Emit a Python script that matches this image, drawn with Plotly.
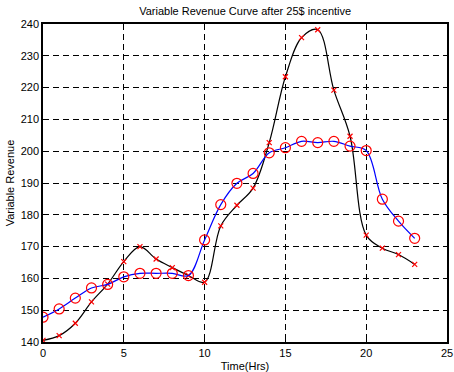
import plotly.graph_objects as go

hours = list(range(24))
revenue_black = [140.5, 142.0, 145.9, 152.6, 158.2, 165.3, 170.0, 166.1, 163.4, 160.9,
                 158.8, 176.5, 183.0, 188.4, 202.7, 223.4, 235.7, 238.2, 219.2, 204.7,
                 173.6, 169.5, 167.5, 164.4]
revenue_blue = [147.8, 150.4, 153.8, 157.0, 158.1, 160.5, 161.6, 161.6, 161.6, 160.9,
                172.1, 183.2, 189.9, 193.0, 199.5, 201.1, 203.1, 202.7, 203.1, 201.6,
                200.2, 184.9, 178.0, 172.6]
x_ticks = [0, 5, 10, 15, 20, 25]
y_ticks = [140, 150, 160, 170, 180, 190, 200, 210, 220, 230, 240]

fig = go.Figure()
fig.add_trace(go.Scatter(
    x=hours, y=revenue_black, mode="lines+markers",
    line=dict(color="black", width=1.2, shape="spline", smoothing=1.0),
    marker=dict(symbol="x-thin-open", size=5, color="red", line=dict(color="red", width=1.2)),
))
fig.add_trace(go.Scatter(
    x=hours, y=revenue_blue, mode="lines+markers",
    line=dict(color="blue", width=1.2, shape="spline", smoothing=1.0),
    marker=dict(symbol="circle-open", size=10, color="red", line=dict(color="red", width=1.2)),
))

axis_common = dict(
    showgrid=True, gridcolor="black", gridwidth=1, griddash="6px,4px",
    showline=True, linecolor="black", linewidth=1.5, mirror=True,
    ticks="inside", ticklen=4, tickcolor="black", zeroline=False,
    automargin=False,
    tickfont=dict(family="Liberation Sans, Arial", size=11, color="black"),
)

fig.update_layout(
    width=454, height=372,
    margin=dict(l=43, r=7, t=24, b=30),
    paper_bgcolor="white", plot_bgcolor="white",
    showlegend=False,
    title=dict(text="Variable Revenue Curve after 25$ incentive", x=0.54, xanchor="center",
               y=0.97, yanchor="middle",
               font=dict(family="Liberation Sans, Arial", size=11, color="black")),
    xaxis=dict(range=[0, 25], tickvals=x_ticks, ticktext=[str(v) for v in x_ticks],
               title=dict(text="Time(Hrs)", standoff=6,
                          font=dict(family="Liberation Sans, Arial", size=11, color="black")),
               **axis_common),
    yaxis=dict(range=[140, 240], tickvals=y_ticks, ticktext=[str(v) for v in y_ticks],
               title=dict(text="Variable Revenue", standoff=4,
                          font=dict(family="Liberation Sans, Arial", size=11, color="black")),
               **axis_common),
)

fig.write_html("out.html")
